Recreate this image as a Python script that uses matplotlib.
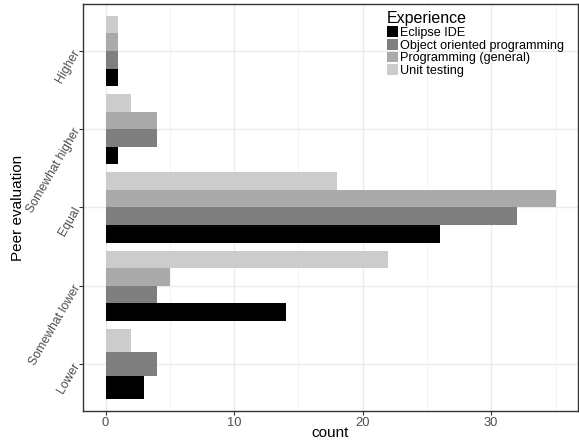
import numpy as np
import matplotlib
matplotlib.use('Agg')
import matplotlib.pyplot as plt
from matplotlib.patches import Patch

plt.rcParams['font.family'] = ['Liberation Sans', 'DejaVu Sans']

# categorias (de abajo hacia arriba) y series
categories = ['Lower', 'Somewhat lower', 'Equal', 'Somewhat higher', 'Higher']
series = ['Eclipse IDE', 'Object oriented programming', 'Programming (general)', 'Unit testing']
colors = ['#000000', '#7F7F7F', '#AAAAAA', '#CCCCCC']

# conteos por serie (None = sin datos)
eclipse = [3, 14, 26, 1, 1]
oop = [4, 4, 32, 4, 1]
prog = [None, 5, 35, 4, 1]
unit = [2, 22, 18, 2, 1]
values = [eclipse, oop, prog, unit]

fig = plt.figure(figsize=(5.79, 4.43), dpi=100)
ax = fig.add_axes([83/579, 1-411/443, (578-83)/579, (411-4)/443])

# barras agrupadas estilo position_dodge
for ci, cat in enumerate(categories):
    present = [si for si in range(len(series)) if values[si][ci] is not None]
    n = len(present)
    h = 0.9 / n
    for k, si in enumerate(present):
        y = ci + 1 - 0.45 + h * (k + 0.5)
        ax.barh(y, values[si][ci], height=h, color=colors[si], zorder=3)

ax.set_xlim(-1.75, 36.75)
ax.set_ylim(0.4, 5.6)
ax.set_xticks([0, 10, 20, 30])
ax.set_xticks([5, 15, 25, 35], minor=True)
ax.set_yticks(range(1, 6))
ax.set_yticklabels(categories, rotation=60, ha='right', va='center',
                   rotation_mode='anchor')
ax.grid(which='major', color='#EBEBEB', lw=1.0, zorder=0)
ax.grid(which='minor', axis='x', color='#F2F2F2', lw=0.6, zorder=0)
ax.tick_params(which='major', length=3, width=0.8, color='#333333',
               labelcolor='#4D4D4D', labelsize=9.3, pad=1.5)
ax.tick_params(axis='y', pad=1.0, labelsize=8.8)
ax.tick_params(which='minor', length=0)
for s in ax.spines.values():
    s.set_color('#333333')
    s.set_linewidth(1.0)

fig.text(330/579, 1-433/443, 'count', ha='center', va='center', fontsize=11)
fig.text(18/579, 1-208/443, 'Peer evaluation', ha='center', va='center',
         rotation=90, fontsize=11)

handles = [Patch(facecolor=c, edgecolor='none') for c in colors]
leg = fig.legend(handles, series, loc='upper left',
                 bbox_to_anchor=(387/579, 1-11/443), frameon=False,
                 title='Experience', title_fontsize=11.5, fontsize=9.1,
                 handlelength=0.9, handleheight=0.95, labelspacing=0,
                 handletextpad=0.15, borderpad=0, borderaxespad=0)
leg._legend_box.align = 'left'

fig.savefig('out.png', dpi=100)
